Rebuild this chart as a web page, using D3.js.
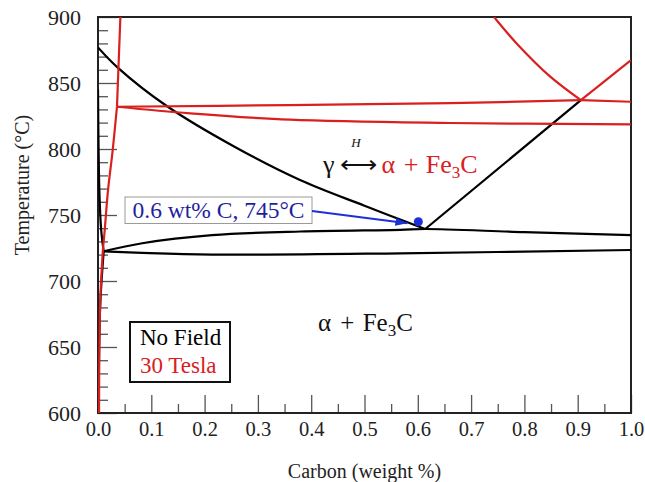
<!DOCTYPE html>
<html><head><meta charset="utf-8">
<script src="https://cdn.jsdelivr.net/npm/d3@7"></script>
</head>
<body style="margin:0"><svg id="c" width="645" height="482"></svg>
<script>
// ---- Data (carbon wt%, temperature °C) ----
const xTicks = [0,0.1,0.2,0.3,0.4,0.5,0.6,0.7,0.8,0.9,1.0];
const yTicks = [600,650,700,750,800,850,900];
const xLabel = "Carbon (weight %)";
const yLabel = "Temperature (°C)";

// No Field (black)
const blackA3 = [[0,877],[0.0375,861.5],[0.131,832],[0.257,801.5],[0.379,776.5],[0.5,757],[0.614,739.4]];
const blackAcm = [[0.614,739.4],[0.906,837]];
const blackUpper = [[0.0107,722.5],[0.083,728.6],[0.214,734.7],[0.38,737.5],[0.567,738.8],[0.614,739.4],[0.8,737],[1.0,734.8]];
const blackLower = [[0.0107,722.5],[0.083,721.3],[0.214,720],[0.567,721],[1.0,723.5]];
const blackAlphaTop = [[0,845],[0.0025,769],[0.006,738.6],[0.0107,722.5]];
const blackAlphaBottom = [[0.0107,722.5],[0.004,680],[0.001,600]];

// 30 Tesla (red)
const redAlphaTop = [[0.042,900],[0.0356,832]];
const redAlphaBottom = [[0.0356,832],[0.0276,799.2],[0.0188,768.9],[0.0126,738.6],[0.0088,721.2],[0.0038,680],[0.002,600]];
const redUpper = [[0.0356,832],[0.36,833.3],[0.66,834.8],[0.906,837]];
const redUpperRight = [[0.906,837],[1.0,835.8]];
const redLower = [[0.0356,832],[0.173,827],[0.36,822.2],[0.66,819.7],[1.0,818.7]];
const redAcm = [[0.743,900],[0.785,880.2],[0.848,855],[0.906,837]];
const redRight = [[0.906,837],[1.0,867.4]];

// Annotation point
const pointC = 0.601, pointT = 744.9;
const pointLabel = "0.6 wt% C, 745°C";

const legendNames = ["No Field","30 Tesla"];
const legendColors = ["#000","#d9201f"];

// ---- Layout ----
const F = "Liberation Serif";
const M = {left:98, top:17, right:631, bottom:413};
const svg = d3.select("#c");
const x = d3.scaleLinear().domain([0,1]).range([M.left,M.right]);
const y = d3.scaleLinear().domain([600,900]).range([M.bottom,M.top]);
const RED = "#d9201f";

const defs = svg.append("defs");
defs.append("clipPath").attr("id","clip")
  .append("rect").attr("x",M.left).attr("y",M.top).attr("width",M.right-M.left).attr("height",M.bottom-M.top);
defs.append("marker").attr("id","arr").attr("viewBox","0 0 12 8")
  .attr("refX",12).attr("refY",4).attr("markerWidth",12).attr("markerHeight",8)
  .attr("markerUnits","userSpaceOnUse").attr("orient","auto")
  .append("path").attr("d","M0,0L12,4L0,8Z").attr("fill","#1c30d8");

// axes
const gx = svg.append("g").attr("transform",`translate(0,${M.bottom})`)
  .call(d3.axisBottom(x).tickValues(d3.range(0.05,1,0.1)).tickSize(-9).tickFormat(""));
const gxM = svg.append("g").attr("transform",`translate(0,${M.bottom})`)
  .call(d3.axisBottom(x).tickValues(xTicks).tickSizeInner(-18).tickSizeOuter(0).tickPadding(8).tickFormat(d3.format(".1f")));
const gy = svg.append("g").attr("transform",`translate(${M.left},0)`)
  .call(d3.axisLeft(y).tickValues(d3.range(610,900,10).filter(v=>v%50!==0)).tickSize(-10).tickFormat(""));
const gyM = svg.append("g").attr("transform",`translate(${M.left},0)`)
  .call(d3.axisLeft(y).tickValues(yTicks).tickSizeInner(-19).tickSizeOuter(0).tickPadding(17));
[gx,gxM,gy,gyM].forEach(g=>{
  g.attr("font-family",null).attr("font-size",null);
  g.select(".domain").remove();
  g.selectAll(".tick line").attr("stroke","#555").attr("stroke-width",1.3);
  g.selectAll("text").attr("fill","#222").attr("font-family",F).attr("font-size",20.5);
});
gyM.selectAll("text").attr("font-size",22);

// frame
svg.append("rect").attr("x",M.left).attr("y",M.top).attr("width",M.right-M.left).attr("height",M.bottom-M.top)
  .attr("fill","none").attr("stroke","#222").attr("stroke-width",2);

// axis titles
svg.append("text").attr("x",(M.left+M.right)/2).attr("y",478).attr("text-anchor","middle")
  .attr("font-family",F).attr("font-size",20).attr("fill","#222").text(xLabel);
svg.append("text").attr("transform",`translate(29,185) rotate(-90)`).attr("text-anchor","middle")
  .attr("font-family",F).attr("font-size",20).attr("fill","#222").text(yLabel);

// curves
const plot = svg.append("g").attr("clip-path","url(#clip)");
const smooth = d3.line().x(d=>x(d[0])).y(d=>y(d[1])).curve(d3.curveCatmullRom.alpha(0.5));
const straight = d3.line().x(d=>x(d[0])).y(d=>y(d[1]));
function draw(data,color,curve){
  plot.append("path").datum(data).attr("d",curve?smooth:straight)
    .attr("fill","none").attr("stroke",color).attr("stroke-width",2.2).attr("stroke-linejoin","round");
}
draw(blackAlphaTop,"#000",true);
draw(blackAlphaBottom,"#000",true);
draw(blackA3,"#000",true);
draw(blackAcm,"#000",false);
draw(blackUpper,"#000",true);
draw(blackLower,"#000",true);
draw(redAlphaTop,RED,false);
draw(redAlphaBottom,RED,true);
draw(redUpper,RED,true);
draw(redUpperRight,RED,false);
draw(redLower,RED,true);
draw(redAcm,RED,true);
draw(redRight,RED,false);

// annotation point
const px = x(pointC), py = y(pointT);
svg.append("circle").attr("cx",px).attr("cy",py).attr("r",4.5).attr("fill","#1c30d8");
const boxR = 312, boxL = 125, boxT = 197, boxB = 223.5;
svg.append("rect").attr("x",boxL).attr("y",boxT).attr("width",boxR-boxL).attr("height",boxB-boxT)
  .attr("fill","#fff").attr("stroke","#9a9a9a").attr("stroke-width",1);
svg.append("text").attr("x",(boxL+boxR)/2).attr("y",217.5).attr("text-anchor","middle")
  .attr("font-family",F).attr("font-size",23.5).attr("fill","#1f1f9e").text(pointLabel);
svg.append("line").attr("x1",boxR).attr("y1",211).attr("x2",px-11).attr("y2",py+1.5)
  .attr("stroke","#1c30d8").attr("stroke-width",2.2).attr("marker-end","url(#arr)");

// reaction label
const rl = svg.append("text").attr("x",323).attr("y",173).attr("font-family",F).attr("font-size",26);
rl.append("tspan").attr("fill","#111").text("γ");
rl.append("tspan").attr("fill","#111").attr("dx",5).text("⟷");
rl.append("tspan").attr("fill",RED).attr("dx",5).text("α");
rl.append("tspan").attr("fill",RED).attr("dx",2).text(" + ");
rl.append("tspan").attr("fill",RED).attr("dx",1).text("Fe");
rl.append("tspan").attr("fill",RED).attr("font-size",17).attr("dy",5).text("3");
rl.append("tspan").attr("fill",RED).attr("dy",-5).text("C");
svg.append("text").attr("x",356).attr("y",147).attr("text-anchor","middle").attr("font-family",F)
  .attr("font-size",13).attr("font-style","italic").attr("fill","#111").text("H");

const ll = svg.append("text").attr("x",318).attr("y",331).attr("font-family",F).attr("font-size",25).attr("fill","#111");
ll.append("tspan").text("α");
ll.append("tspan").attr("dx",3).text(" + ");
ll.append("tspan").attr("dx",2).text("Fe");
ll.append("tspan").attr("font-size",17).attr("dy",5).text("3");
ll.append("tspan").attr("dy",-5).text("C");

// legend
svg.append("rect").attr("x",130).attr("y",322).attr("width",100).attr("height",60)
  .attr("fill","#fff").attr("stroke","#111").attr("stroke-width",2);
svg.selectAll(".leg").data(legendNames).enter().append("text").attr("class","leg")
  .attr("x",140).attr("y",(d,i)=>345+i*28).attr("font-family",F).attr("font-size",23)
  .attr("fill",(d,i)=>legendColors[i]).text(d=>d);
</script></body></html>
